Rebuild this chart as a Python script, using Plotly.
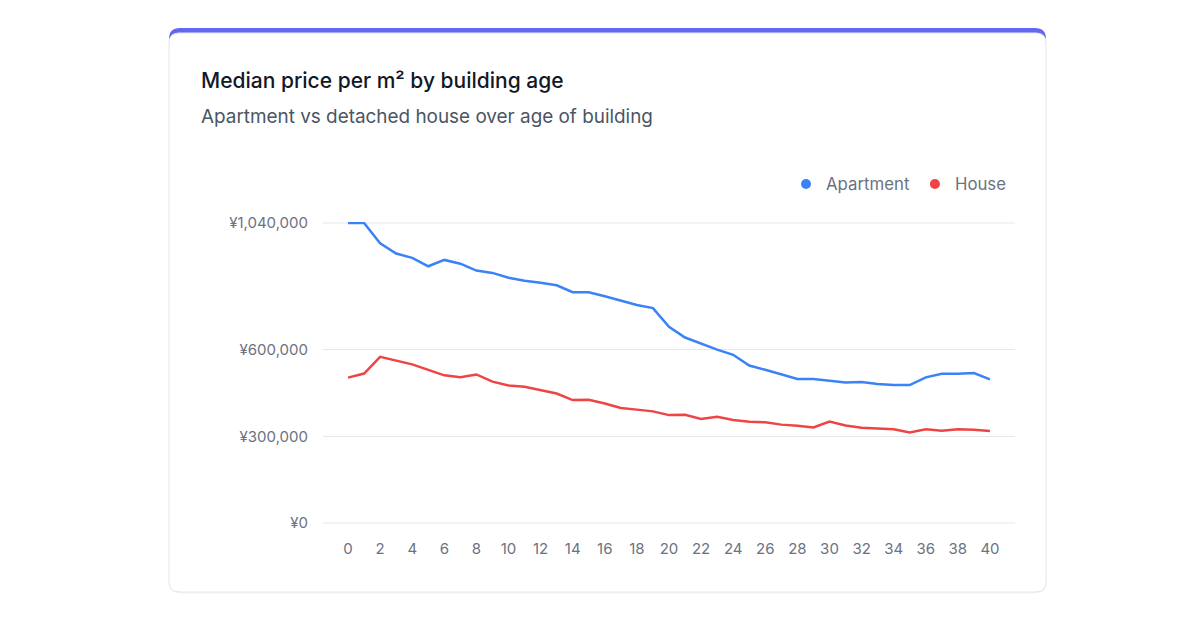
import plotly.graph_objects as go

ages = list(range(0, 41))
apartment = [1040000, 1040000, 970000, 934000, 919000, 890000, 912000, 899000, 875000, 867000,
             850000, 840000, 833000, 824000, 800000, 800000, 786000, 772000, 756000, 745000,
             680000, 643000, 622000, 601000, 583000, 546000, 531000, 515000, 499000, 499000,
             494000, 487000, 489000, 482000, 478000, 478000, 505000, 517000, 517000, 520000, 498000]
house = [504000, 518000, 576000, 564000, 550000, 531000, 512000, 505000, 515000, 490000,
         477000, 472000, 461000, 449000, 426000, 427000, 414000, 399000, 393000, 387000,
         374000, 375000, 361000, 368000, 357000, 351000, 349000, 341000, 337000, 331000,
         352000, 338000, 330000, 328000, 325000, 314000, 325000, 320000, 325000, 323000, 319000]
y_tickvals = [0, 300000, 600000, 1040000]
y_ticktext = ["¥0", "¥300,000", "¥600,000", "¥1,040,000"]
x_tickvals = list(range(0, 41, 2))

OFF = 8  # page body margin
W, H = 1184, 614
# plot area (page pixels) padded by 1px each side so lines at the edges are not clipped
L, R, T, B = 323 - OFF, 1015 - OFF, 222 - OFF, 524 - OFF
Y_PAD = 1040000 / 300  # one pixel in data units

def px(x):
    return (x - OFF - L) / (R - L)

def py(y):
    return (B - (y - OFF)) / (B - T)

def rrect(x0, y0, x1, y1, r):
    def P(x, y):
        return f"{px(x):.5f},{py(y):.5f}"
    return (f"M {P(x0 + r, y0)} L {P(x1 - r, y0)} Q {P(x1, y0)} {P(x1, y0 + r)} "
            f"L {P(x1, y1 - r)} Q {P(x1, y1)} {P(x1 - r, y1)} "
            f"L {P(x0 + r, y1)} Q {P(x0, y1)} {P(x0, y1 - r)} "
            f"L {P(x0, y0 + r)} Q {P(x0, y0)} {P(x0 + r, y0)} Z")

BLUE, RED = "#3b82f6", "#ef4444"
fig = go.Figure()
fig.add_trace(go.Scatter(x=ages, y=apartment, name="Apartment", mode="lines", showlegend=False,
                         line=dict(color=BLUE, width=2.5)))
fig.add_trace(go.Scatter(x=ages, y=house, name="House", mode="lines", showlegend=False,
                         line=dict(color=RED, width=2.5)))
# legend entries with round markers
fig.add_trace(go.Scatter(x=[None], y=[None], name="Apartment", mode="markers",
                         marker=dict(color=BLUE, size=10)))
fig.add_trace(go.Scatter(x=[None], y=[None], name="House", mode="markers",
                         marker=dict(color=RED, size=10)))

cx0, cy0, cx1, cy1 = 169, 28, 1046, 592
shapes = [
    dict(type="path", xref="paper", yref="paper", path=rrect(cx0, cy0 + 1, cx1, cy1 + 1.5, 11),
         fillcolor="rgba(0,0,0,0.04)", line=dict(width=0), layer="below"),
    dict(type="path", xref="paper", yref="paper", path=rrect(cx0, cy0, cx1, cy1, 11),
         fillcolor="#6366f1", line=dict(width=0), layer="below"),
    dict(type="path", xref="paper", yref="paper", path=rrect(cx0, cy0 + 5, cx1, cy1, 10),
         fillcolor="#ffffff", line=dict(color="#e5e7eb", width=1), layer="below"),
]
# gridlines near the range edges (plotly skips them)
for v in (y_tickvals[0], y_tickvals[-1]):
    shapes.append(dict(type="line", xref="paper", yref="y", x0=0, x1=1, y0=v, y1=v,
                       line=dict(color="#e5e7eb", width=1), layer="below"))

FONT = "Inter, Noto Sans, sans-serif"
fig.update_layout(
    width=W, height=H,
    margin=dict(l=L, r=W - R, t=T, b=H - B),
    paper_bgcolor="#ffffff", plot_bgcolor="rgba(0,0,0,0)",
    font=dict(family=FONT, color="#6b7280", size=15),
    shapes=shapes,
    showlegend=True,
    legend=dict(orientation="h", x=px(1012), xanchor="right", y=py(184), yanchor="middle",
                font=dict(size=16.8, color="#6b7280"), bgcolor="rgba(0,0,0,0)",
                itemwidth=30, tracegroupgap=0),
    annotations=[
        dict(text="Median price per m² by building age", xref="paper", yref="paper",
             x=px(199), y=py(81), xanchor="left", yanchor="middle", showarrow=False,
             font=dict(size=21, color="#111827", family=FONT, weight=500)),
        dict(text="Apartment vs detached house over age of building", xref="paper", yref="paper",
             x=px(199), y=py(116), xanchor="left", yanchor="middle", showarrow=False,
             font=dict(size=18.9, color="#4b5563", family=FONT)),
    ],
    xaxis=dict(range=[-1.56, 41.56], tickvals=x_tickvals, showgrid=False, zeroline=False,
               showline=False, ticks="", tickfont=dict(size=15, color="#6b7280"), ticklabelstandoff=14),
    yaxis=dict(range=[-Y_PAD, 1040000 + Y_PAD], tickvals=y_tickvals, ticktext=y_ticktext,
               showgrid=True, gridcolor="#e5e7eb", gridwidth=1, zeroline=False, showline=False,
               ticks="", tickfont=dict(size=15, color="#6b7280"), ticklabelstandoff=14),
)

fig.write_html("out.html")
